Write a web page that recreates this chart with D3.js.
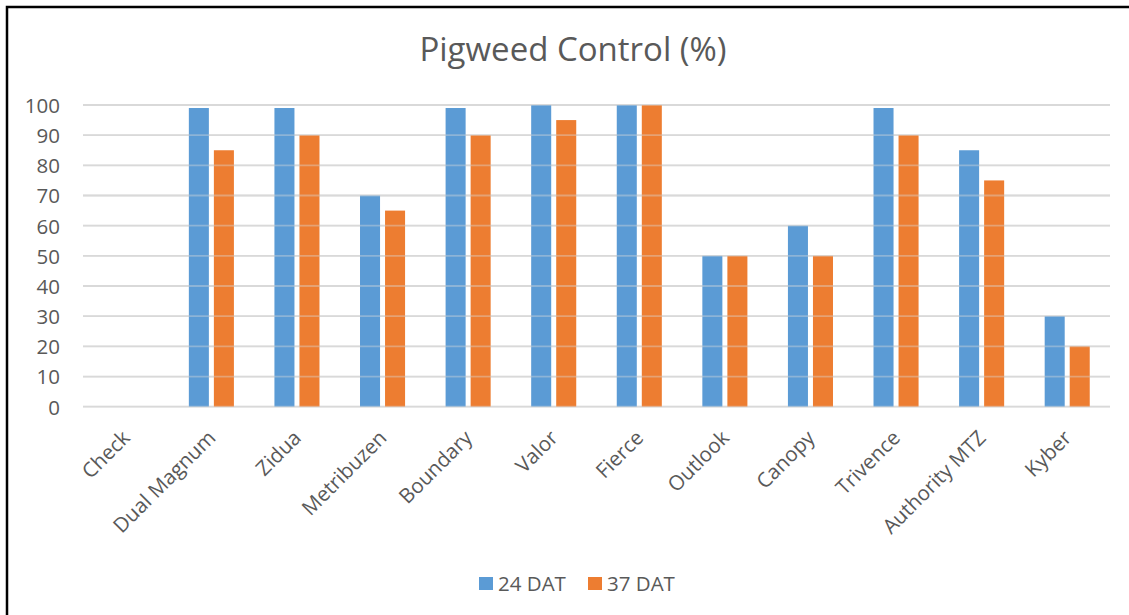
<!DOCTYPE html>
<html>
<head>
<meta charset="utf-8">
<script src="https://cdn.jsdelivr.net/npm/d3@7"></script>
<style>
  html, body { margin: 0; padding: 0; background: #fff; }
  svg { display: block; }
  text { font-family: "Open Sans", sans-serif; fill: #595959; }
</style>
</head>
<body>
<svg id="chart" width="1129" height="615"></svg>
<script>
// Pigweed control ratings by herbicide treatment
const categories = ["Check", "Dual Magnum", "Zidua", "Metribuzen", "Boundary", "Valor",
  "Fierce", "Outlook", "Canopy", "Trivence", "Authority MTZ", "Kyber"];
const seriesNames = ["24 DAT", "37 DAT"];
const dat24 = [0, 99, 99, 70, 99, 100, 100, 50, 60, 99, 85, 30];
const dat37 = [0, 85, 90, 65, 90, 95, 100, 50, 50, 90, 75, 20];
const yTicks = [0, 10, 20, 30, 40, 50, 60, 70, 80, 90, 100];
const colors = ["#5B9BD5", "#ED7D31"];

const svg = d3.select("#chart");
const W = 1129, H = 615;
const plot = { left: 83, right: 1110, top: 105, bottom: 406.7 };

// frame around the chart area
svg.append("rect")
  .attr("x", 7).attr("y", 7)
  .attr("width", W + 20).attr("height", H + 20)
  .attr("fill", "#fff").attr("stroke", "#000").attr("stroke-width", 2.5);

const x = d3.scaleBand().domain(categories).range([plot.left, plot.right]).padding(0);
const y = d3.scaleLinear().domain([0, 100]).range([plot.bottom, plot.top]);

const barW = x.bandwidth() * 0.234;
const gap = barW * 0.25;

// gridlines (under bars)
const grid = svg.append("g");
grid.selectAll("line").data(yTicks).join("line")
  .attr("x1", plot.left).attr("x2", plot.right)
  .attr("y1", d => y(d)).attr("y2", d => y(d))
  .attr("stroke", "#d9d9d9").attr("stroke-width", 1.8);

// bars
const series = [dat24, dat37];
series.forEach((vals, si) => {
  svg.append("g").selectAll("rect").data(categories).join("rect")
    .attr("x", (c) => x(c) + x.bandwidth() / 2 - barW - gap / 2 + si * (barW + gap))
    .attr("y", (c, i) => y(vals[i]))
    .attr("width", barW)
    .attr("height", (c, i) => y(0) - y(vals[i]))
    .attr("fill", colors[si]);
});

// faint gridlines showing through the bars
svg.append("g").selectAll("line").data(yTicks).join("line")
  .attr("x1", plot.left).attr("x2", plot.right)
  .attr("y1", d => y(d)).attr("y2", d => y(d))
  .attr("stroke", "#d9d9d9").attr("stroke-width", 1.8).attr("stroke-opacity", 0.4);

// y axis labels
const yAxis = d3.axisLeft(y).tickValues(yTicks).tickSize(0).tickPadding(0);
const ya = svg.append("g").attr("transform", `translate(${60},0)`).call(yAxis);
ya.select(".domain").remove();
ya.selectAll("text")
  .attr("font-family", "Open Sans, sans-serif")
  .attr("font-size", 20.5).attr("fill", "#595959")
  .attr("dy", "0.36em");

// x axis labels, rotated
const xAxis = d3.axisBottom(x).tickSize(0).tickPadding(0);
const xa = svg.append("g").attr("transform", `translate(0,${plot.bottom})`).call(xAxis);
xa.select(".domain").remove();
xa.selectAll("text")
  .attr("font-family", "Open Sans, sans-serif")
  .attr("font-size", 20.5).attr("fill", "#595959")
  .attr("text-anchor", "end")
  .attr("dy", null).attr("y", null)
  .attr("transform", "translate(-7,20) rotate(-45)")
  .attr("dominant-baseline", "hanging");

// title
svg.append("text")
  .attr("x", 573).attr("y", 61)
  .attr("text-anchor", "middle")
  .attr("font-size", 33)
  .text("Pigweed Control (%)");

// legend
const legend = svg.append("g");
const legX = [479, 588];
seriesNames.forEach((name, i) => {
  legend.append("rect")
    .attr("x", legX[i]).attr("y", 577)
    .attr("width", 14).attr("height", 13)
    .attr("fill", colors[i]);
  legend.append("text")
    .attr("x", legX[i] + 19).attr("y", 590.5)
    .attr("font-size", 20.5)
    .text(name);
});
</script>
</body>
</html>
